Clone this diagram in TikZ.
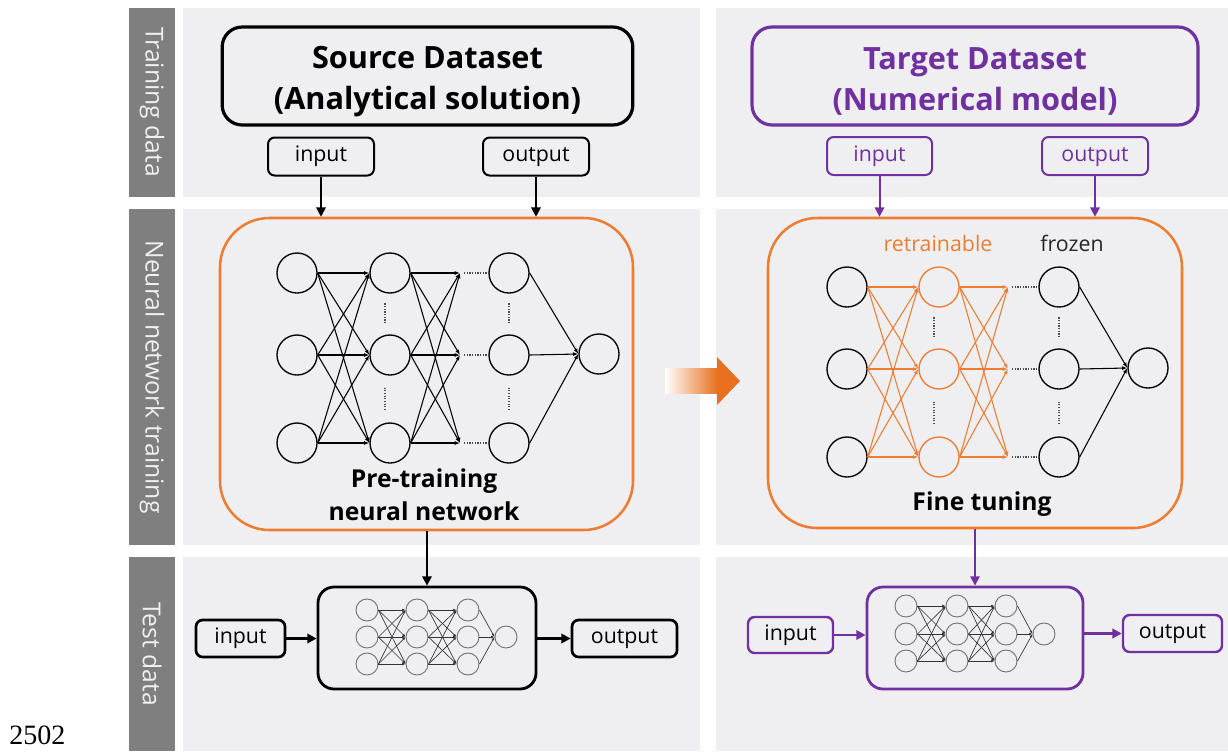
\documentclass[tikz,border=0pt]{standalone}
\usepackage{fontspec}
\setmainfont{Open Sans}
\newfontfamily\numfont{Liberation Serif}
\usetikzlibrary{arrows.meta,calc}

\definecolor{panelgray}{HTML}{EFEFF2}
\definecolor{stripgray}{HTML}{7F7F7F}
\definecolor{netorange}{HTML}{ED7D31}
\definecolor{arroworange}{HTML}{E8701E}
\definecolor{tgtpurple}{HTML}{7030A0}

\tikzset{
  panel/.style={fill=panelgray, draw=none},
  strip/.style={fill=stripgray, draw=none},
  striplabel/.style={rotate=-90, text=white!94!black, font=\fontsize{18.5}{20}\selectfont},
  titlebox/.style={draw, line width=2.4pt, rounded corners=15pt, inner sep=0pt},
  titletext/.style={align=center, inner sep=0pt, yshift=-4pt,
    font=\bfseries\fontsize{23}{30.5}\selectfont},
  iobox/.style={draw, line width=1.5pt, rounded corners=5pt, inner sep=0pt,
    text height=1.6ex, text depth=0.2ex, font=\fontsize{16}{16}\selectfont},
  netbox/.style={draw=netorange, line width=1.9pt, rounded corners=37pt, inner sep=0pt},
  testbox/.style={draw, line width=2.1pt, rounded corners=12pt, inner sep=0pt},
  neuron/.style={circle, draw, line width=1pt, minimum size=30pt, inner sep=0pt},
  sneuron/.style={circle, draw=black!55, line width=0.7pt, minimum size=16.5pt, inner sep=0pt},
  edge/.style={line width=0.8pt, -{Latex[length=4pt,width=3pt]}},
  sedge/.style={line width=0.5pt, draw=black!80, -{Latex[length=2.5pt,width=2pt]}},
  dots/.style={line width=0.8pt, dash pattern=on 0.9pt off 1.1pt, draw=black!70},
  flow/.style={line width=1.5pt, -{Triangle[length=7pt,width=7pt]}},
  caption/.style={align=center, font=\bfseries\fontsize{18.5}{24.5}\selectfont},
}

\begin{document}
\begin{tikzpicture}[x=0.75pt, y=-0.75pt]
\useasboundingbox (0,0) rectangle (1228,751);
\fill[white] (0,0) rectangle (1228,751);

% ---------- background panels and row labels ----------
\fill[panel] (183,8) rectangle (700,197);
\fill[panel] (183,209) rectangle (700,545);
\fill[panel] (183,557) rectangle (700,751);
\fill[panel] (716,8) rectangle (1228,197);
\fill[panel] (716,209) rectangle (1228,545);
\fill[panel] (716,557) rectangle (1228,751);
\fill[strip] (129,8) rectangle (175,197);
\fill[strip] (129,209) rectangle (175,545);
\fill[strip] (129,557) rectangle (175,751);
\node[striplabel] (lblTrain) at (152,102) {Training data};
\node[striplabel] (lblNet) at (152,377) {Neural network training};
\node[striplabel] (lblTest) at (152,654) {Test data};
\node[anchor=base west, font=\numfont\fontsize{21}{21}\selectfont, inner sep=0pt] (pagenum) at (9,744) {2502};

% ---------- source side ----------
\node[titlebox, minimum width=308pt, minimum height=73.5pt,
  label={[titletext]center:{Source Dataset\\(Analytical solution)}}] (src) at (427.5,76) {};
\node[iobox, minimum width=79.5pt, minimum height=28.5pt] (srcIn) at (321,156.5) {input};
\node[iobox, minimum width=79.5pt, minimum height=28.5pt] (srcOut) at (536,156.5) {output};
\node[netbox, minimum width=309.75pt, minimum height=234pt] (pre) at (426.5,374) {};
\draw[flow] (srcIn.south) -- (srcIn.south |- pre.north);
\draw[flow] (srcOut.south) -- (srcOut.south |- pre.north);

% pre-training network
\foreach \i/\y in {1/273,2/355,3/443} {
  \node[neuron] (la\i) at (297,\y) {};
  \node[neuron] (lb\i) at (390,\y) {};
  \coordinate (lm\i) at (460,\y);
  \node[neuron] (lc\i) at (509,\y) {};
}
\node[neuron] (lo) at (599,354) {};
\foreach \i in {1,2,3} {
  \foreach \j in {1,2,3} {
    \draw[edge] (la\i.east) -- (lb\j.west);
    \draw[edge] (lb\i.east) -- (lm\j);
  }
  \draw[dots, shorten <=3pt] (lm\i) -- (lc\i.west);
  \draw[edge] (lc\i.east) -- (lo.west);
}
\draw[dots] ($(lb1)!0.37!(lb2)+(-5,0)$) -- ($(lb1)!0.63!(lb2)+(-5,0)$);
\draw[dots] ($(lb2)!0.37!(lb3)+(-5,0)$) -- ($(lb2)!0.63!(lb3)+(-5,0)$);
\draw[dots] ($(lc1)!0.37!(lc2)$) -- ($(lc1)!0.63!(lc2)$);
\draw[dots] ($(lc2)!0.37!(lc3)$) -- ($(lc2)!0.63!(lc3)$);
\node[caption] (preText) at (424,495) {Pre-training\\neural network};

% ---------- transfer arrow ----------
\shade[left color=white, right color=arroworange] (665,368) rectangle (717.5,393);
\fill[arroworange] (717,357) -- (740,381) -- (717,405) -- cycle;

% ---------- target side ----------
\node[titlebox, draw=tgtpurple, minimum width=334.5pt, minimum height=73.5pt,
  label={[titletext, text=tgtpurple]center:{Target Dataset\\(Numerical model)}}] (tgt) at (975,76) {};
\node[iobox, draw=tgtpurple, text=tgtpurple, minimum width=78.75pt, minimum height=28.5pt] (tgtIn) at (879.5,156) {input};
\node[iobox, draw=tgtpurple, text=tgtpurple, minimum width=79.5pt, minimum height=28.5pt] (tgtOut) at (1095,156) {output};
\node[netbox, minimum width=310.5pt, minimum height=232.5pt] (fine) at (975,373) {};
\draw[flow, tgtpurple] (tgtIn.south) -- (tgtIn.south |- fine.north);
\draw[flow, tgtpurple] (tgtOut.south) -- (tgtOut.south |- fine.north);

% fine-tuning network
\node[text=netorange, font=\fontsize{16}{16}\selectfont] (retrain) at (938,243) {retrainable};
\node[text=black!85, font=\fontsize{16}{16}\selectfont] (frozen) at (1072,243) {frozen};
\foreach \i/\y in {1/287,2/369,3/457} {
  \node[neuron] (ra\i) at (847,\y) {};
  \node[neuron, draw=netorange] (rb\i) at (939,\y) {};
  \coordinate (rm\i) at (1008,\y);
  \node[neuron] (rc\i) at (1059,\y) {};
}
\node[neuron] (ro) at (1148,368) {};
\foreach \i in {1,2,3} {
  \foreach \j in {1,2,3} {
    \draw[edge, netorange] (ra\i.east) -- (rb\j.west);
    \draw[edge, netorange] (rb\i.east) -- (rm\j);
  }
  \draw[dots, shorten <=3pt] (rm\i) -- (rc\i.west);
  \draw[edge] (rc\i.east) -- (ro.west);
}
\draw[dots] ($(rb1)!0.37!(rb2)+(-5,0)$) -- ($(rb1)!0.63!(rb2)+(-5,0)$);
\draw[dots] ($(rb2)!0.37!(rb3)+(-5,0)$) -- ($(rb2)!0.63!(rb3)+(-5,0)$);
\draw[dots] ($(rc1)!0.37!(rc2)$) -- ($(rc1)!0.63!(rc2)$);
\draw[dots] ($(rc2)!0.37!(rc3)$) -- ($(rc2)!0.63!(rc3)$);
\node[caption] (fineText) at (982,504) {Fine tuning};

% ---------- test row, source model ----------
\node[testbox, minimum width=163.5pt, minimum height=76.5pt] (srcModel) at (427,638) {};
\node[iobox, line width=2pt, minimum width=66.75pt, minimum height=27.75pt] (testInL) at (240.5,638.5) {input};
\node[iobox, line width=2pt, minimum width=78.75pt, minimum height=27.75pt] (testOutL) at (624.5,638.5) {output};
\draw[flow, line width=2pt] (pre.south -| srcModel.north) -- (srcModel.north);
\draw[flow, line width=2pt] (testInL.east) -- (testInL.east -| srcModel.west);
\draw[flow, line width=2pt] (testInL.east -| srcModel.east) -- (testOutL.west);
\foreach \i/\y in {1/610,2/637,3/664} {
  \node[sneuron] (sa\i) at (367,\y) {};
  \node[sneuron] (sb\i) at (417,\y) {};
  \node[sneuron] (sc\i) at (468,\y) {};
}
\node[sneuron] (so) at (506,637) {};
\foreach \i in {1,2,3} {
  \foreach \j in {1,2,3} {
    \draw[sedge] (sa\i.east) -- (sb\j.west);
    \draw[sedge] (sb\i.east) -- (sc\j.west);
  }
  \draw[sedge] (sc\i.east) -- (so.west);
}

% ---------- test row, target model ----------
\node[testbox, draw=tgtpurple, minimum width=162pt, minimum height=76.5pt] (tgtModel) at (975,638) {};
\node[iobox, draw=tgtpurple, line width=1.8pt, minimum width=63.75pt, minimum height=27pt] (testInR) at (790.5,635) {input};
\node[iobox, draw=tgtpurple, line width=1.8pt, minimum width=74.25pt, minimum height=27.75pt] (testOutR) at (1172.5,633.5) {output};
\draw[flow, tgtpurple] (fine.south -| tgtModel.north) -- (tgtModel.north);
\draw[flow, tgtpurple, line width=2pt] (testInR.east) -- (testInR.east -| tgtModel.west);
\draw[flow, tgtpurple, line width=2pt] (testOutR.west -| tgtModel.east) -- (testOutR.west);
\foreach \i/\y in {1/606,2/634,3/661} {
  \node[sneuron] (ta\i) at (906,\y) {};
  \node[sneuron] (tb\i) at (957,\y) {};
  \node[sneuron] (tc\i) at (1006,\y) {};
}
\node[sneuron] (to) at (1044,634) {};
\foreach \i in {1,2,3} {
  \foreach \j in {1,2,3} {
    \draw[sedge] (ta\i.east) -- (tb\j.west);
    \draw[sedge] (tb\i.east) -- (tc\j.west);
  }
  \draw[sedge] (tc\i.east) -- (to.west);
}
\end{tikzpicture}
\end{document}
